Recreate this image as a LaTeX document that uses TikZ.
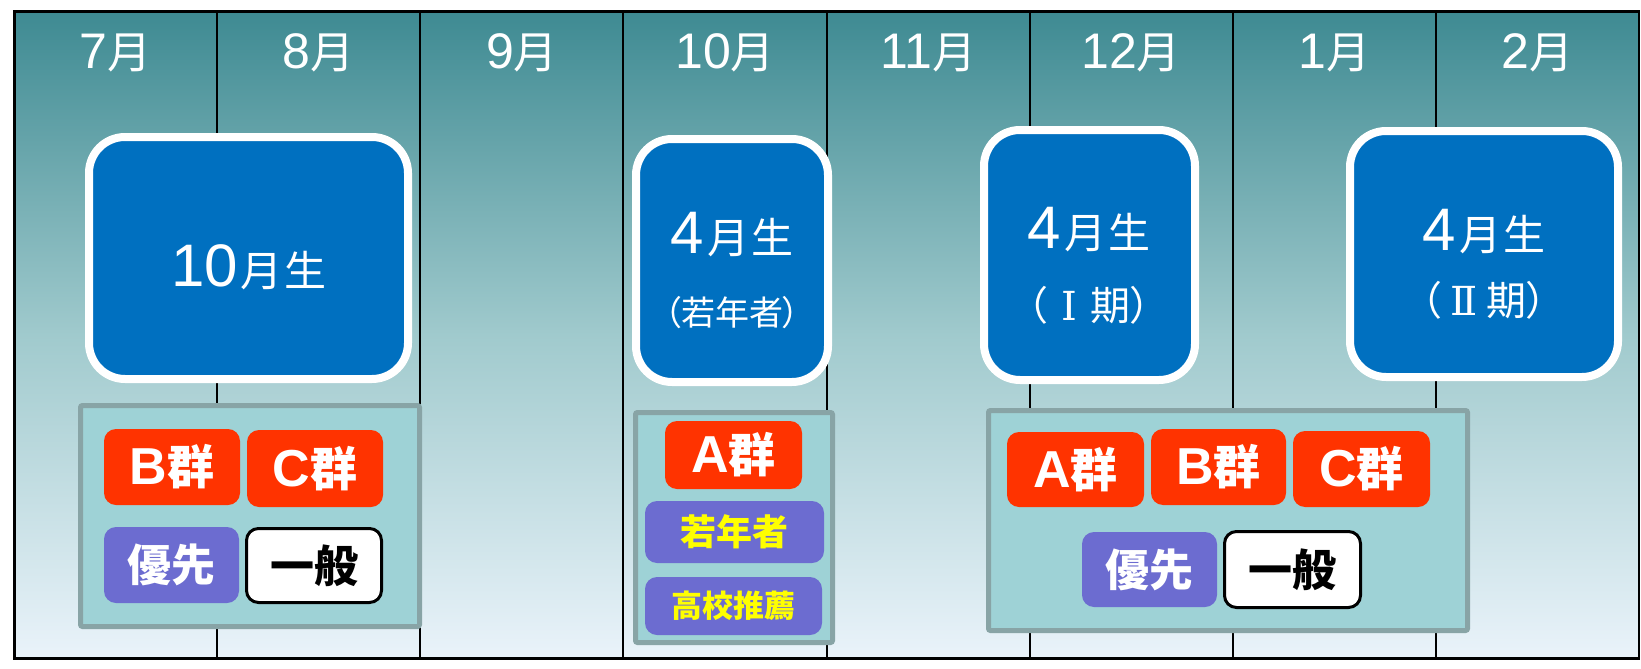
\documentclass[tikz,border=0pt]{standalone}
\usepackage{fontspec}
\setmainfont{Liberation Sans}
\newfontfamily\cjk{Noto Sans CJK JP}
\newfontfamily\cjkp{Noto Sans CJK JP}[RawFeature=+palt]
\newfontfamily\romnum{DejaVu Serif}
\newcommand\fs[1]{\fontsize{#1}{#1}\selectfont}
\newcommand\mon[1]{{\fs{50}#1}{\cjk\fs{44}月}}
\newcommand\grp[1]{{\fs{52}\bfseries #1}{\cjk\fs{47}\bfseries 群}}
\newcommand\fourgak{{\fs{60}4}\kern3pt{\cjk\fs{42}月\kern2pt 生}}
\definecolor{bgtop}{RGB}{62,138,146}
\definecolor{bgmid}{RGB}{160,202,205}
\definecolor{bgbot}{RGB}{234,243,250}
\definecolor{boxblue}{RGB}{0,112,192}
\definecolor{panelfill}{RGB}{158,210,214}
\definecolor{panelline}{RGB}{136,164,166}
\definecolor{grpred}{RGB}{255,51,0}
\definecolor{prio}{RGB}{108,108,208}
\definecolor{yel}{RGB}{255,255,0}
\begin{document}
\begin{tikzpicture}[x=1pt,y=-1pt,
  every node/.style={inner sep=0pt, outer sep=0pt},
  bigbox/.style={draw=white, line width=8pt, fill=boxblue, rounded corners=36pt},
  boxtext/.style={text=white},
  panel/.style={draw=panelline, line width=5pt, fill=panelfill, rounded corners=2pt},
  redbtn/.style={fill=grpred, rounded corners=12pt, text=white},
  purbtn/.style={fill=prio, rounded corners=12pt},
  whitebtn/.style={fill=white, draw=black, line width=3pt, rounded corners=12pt, text=black},
  month/.style={text=white, anchor=base},
  colline/.style={draw=black, line width=2pt},
  framebox/.style={draw=black, line width=2.5pt}]
\useasboundingbox (0,0) rectangle (1641,669);
% background
\fill[top color=bgtop, bottom color=bgbot, middle color=bgmid] (14.3,11.3) rectangle (1638.8,658.3);
\foreach \k in {1,...,7}{
  \draw[colline] ({14.3+203.06*\k},11.3) -- ({14.3+203.06*\k},658.3);
}
\draw[framebox] (14.3,11.3) rectangle (1638.8,658.3);
% month labels
\foreach \m [count=\i from 0] in {7,8,9,10,11,12,1,2}{
  \node[month] (m\i) at ({14.3+203.06*(\i+0.5)},68) {\mon{\m}};
}
% panels
\node[panel, minimum width=339pt, minimum height=221pt] (p1) at (250,516) {};
\node[panel, minimum width=197pt, minimum height=230pt] (p2) at (734,527.5) {};
\node[panel, minimum width=479pt, minimum height=220pt] (p3) at (1228,520.5) {};
% panel 1 buttons
\node[redbtn, minimum width=136pt, minimum height=76pt] (b1) at (172,467) {\grp{B}};
\node[redbtn, minimum width=136pt, minimum height=77pt] (c1) at (315,468.5) {\grp{C}};
\node[purbtn, text=white, minimum width=135pt, minimum height=76pt] (y1) at (171.5,565) {\cjk\fs{44}\bfseries 優先};
\node[whitebtn, minimum width=135pt, minimum height=74pt] (g1) at (314,565.5) {\cjk\fs{44}\bfseries 一般};
% panel 2 buttons
\node[redbtn, minimum width=137pt, minimum height=68pt] (a2) at (733.5,455) {\grp{A}};
\node[purbtn, text=yel, minimum width=179pt, minimum height=62pt] (w2) at (734.5,532) {\cjk\fs{36}\bfseries 若年者};
\node[purbtn, text=yel, minimum width=177pt, minimum height=58pt] (k2) at (733.5,606) {\cjk\fs{31}\bfseries 高校推薦};
% panel 3 buttons
\node[redbtn, minimum width=137pt, minimum height=75pt] (a3) at (1075.5,469.5) {\grp{A}};
\node[redbtn, minimum width=135pt, minimum height=76pt] (b3) at (1218.5,467) {\grp{B}};
\node[redbtn, minimum width=137pt, minimum height=76pt] (c3) at (1361.5,469) {\grp{C}};
\node[purbtn, text=white, minimum width=135pt, minimum height=75pt] (y3) at (1149.5,569.5) {\cjk\fs{44}\bfseries 優先};
\node[whitebtn, minimum width=136pt, minimum height=76pt] (g3) at (1292.5,569.5) {\cjk\fs{44}\bfseries 一般};
% big boxes
\node[bigbox, minimum width=319pt, minimum height=242pt] (bx1) at (248.5,258) {};
\node[bigbox, minimum width=192pt, minimum height=243pt] (bx2) at (732,260.5) {};
\node[bigbox, minimum width=211pt, minimum height=250pt] (bx3) at (1089.5,255) {};
\node[bigbox, minimum width=268pt, minimum height=246pt] (bx4) at (1484,254) {};
% box texts
\node[boxtext, anchor=base] (t1) at (249,286) {{\fs{60}10}\kern3pt{\cjk\fs{42}月\kern2pt 生}};
\node[boxtext, anchor=base] (t2a) at (732,253) {\fourgak};
\node[boxtext] (t2b) at (732,313) {\cjkp\fs{34}（若年者）};
\node[boxtext, anchor=base] (t3a) at (1089,248) {\fourgak};
\node[boxtext] (t3b) at (1089,305) {{\cjkp\fs{40}（}\kern14pt{\romnum\fs{40}Ⅰ}\kern14pt{\cjkp\fs{40}期）}};
\node[boxtext, anchor=base] (t4a) at (1484,250) {\fourgak};
\node[boxtext] (t4b) at (1484,300) {{\cjkp\fs{40}（}\kern9pt{\romnum\fs{40}Ⅱ}\kern9pt{\cjkp\fs{40}期）}};
\end{tikzpicture}
\end{document}
